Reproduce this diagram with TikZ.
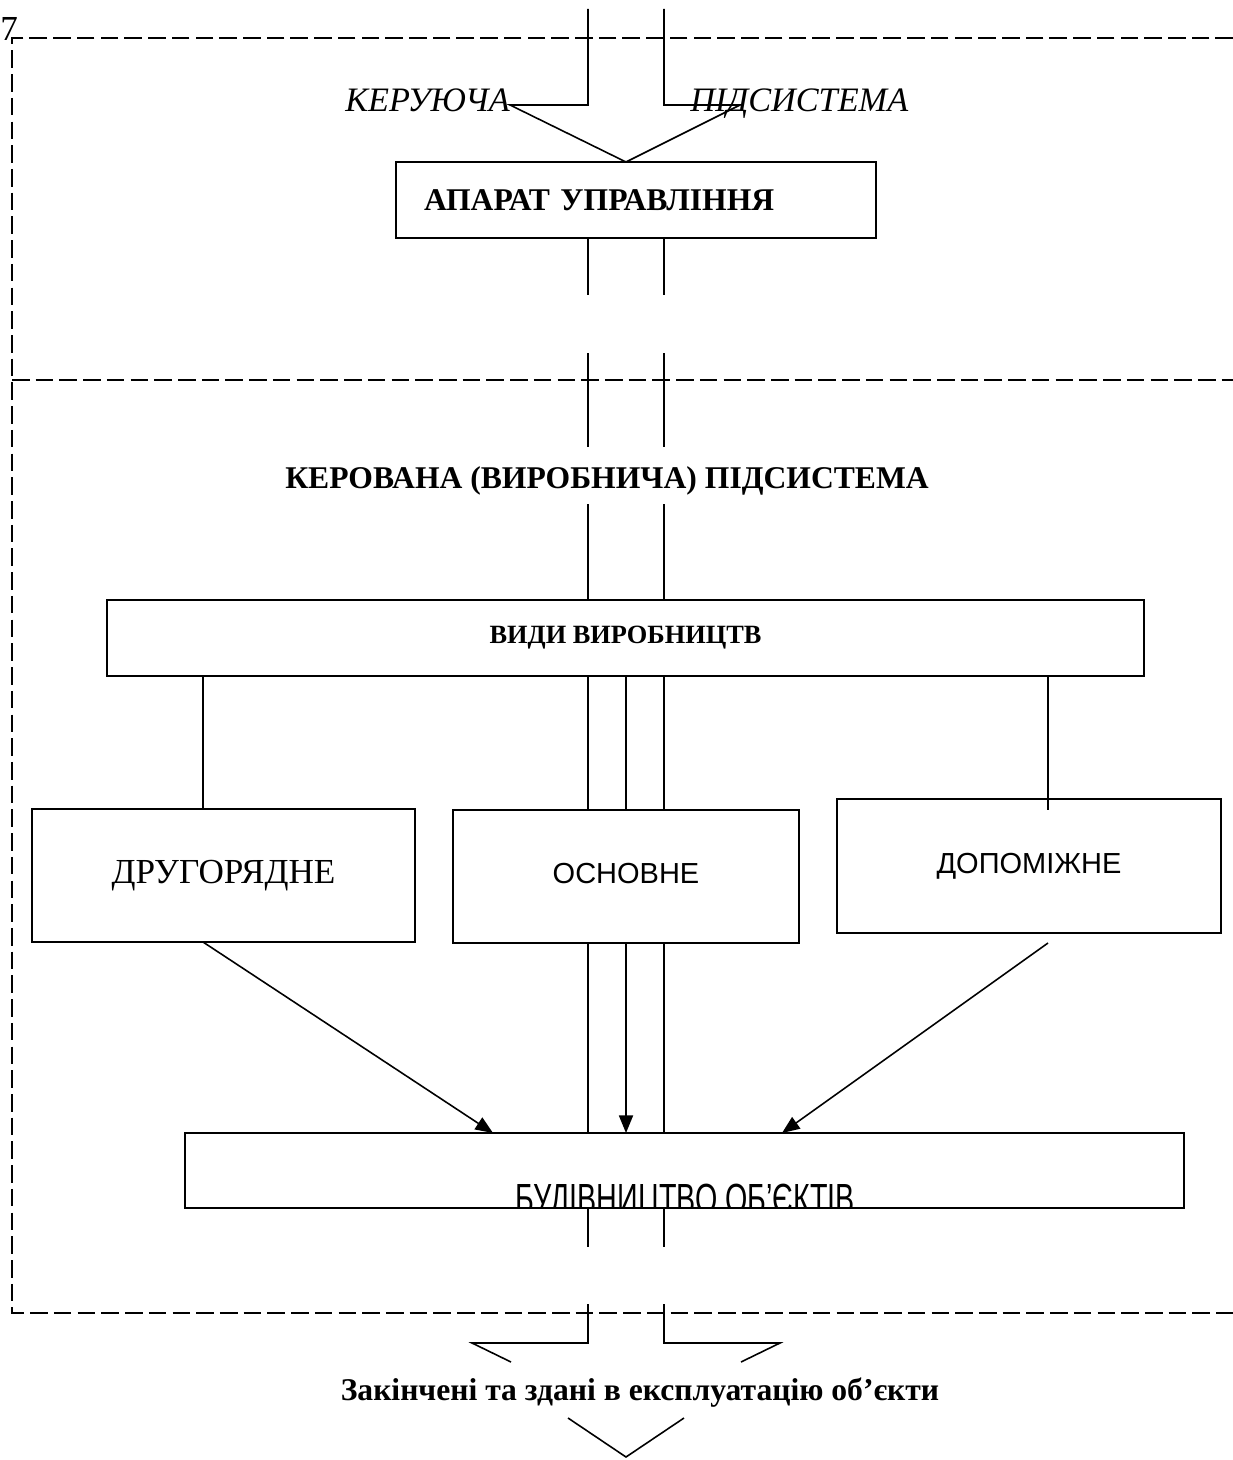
\documentclass[tikz,border=0pt]{standalone}
\usepackage{fontspec}
\setmainfont{Liberation Serif}
\newfontfamily\arialfont{Liberation Sans}
\usepackage{tikz}
\usetikzlibrary{calc,positioning,arrows.meta}

\tikzset{
  frame/.style={line width=1.1pt, dash pattern=on 10pt off 3.5pt},
  flow/.style={line width=0.9pt},
  arr/.style={flow, -{Triangle[length=10pt,width=8pt]}},
  box/.style={draw, line width=1.1pt, inner sep=0pt},
  headtext/.style={font=\bfseries\fontsize{18}{22}\selectfont, inner sep=0pt},
  partlabel/.style={font=\itshape\fontsize{19.5}{23}\selectfont, inner sep=0pt},
}

\begin{document}
\begin{tikzpicture}[x=0.02cm, y=-0.02cm]
        \useasboundingbox (0,0) rectangle (1233,1460);
        % dashed frame of the two subsystems
        \draw[frame] (1233,38) -- (12,38) -- (12,1313) -- (1233,1313);
        \draw[frame] (12,380) -- (1233,380);
        \node[anchor=base west, inner sep=0pt, font=\fontsize{20}{24}\selectfont] (num) at (0,41) {7};

        % managing part
        \node[box, minimum width=9.6cm, minimum height=1.52cm, text width=8.48cm,
              inner xsep=0.56cm, align=left, font=\bfseries\fontsize{18}{22}\selectfont]
              (apparat) at (636,200) {АПАРАТ УПРАВЛІННЯ};
        \node[partlabel, anchor=base east] (keruyucha) at (510,112) {КЕРУЮЧА};
        \node[partlabel, anchor=base west] (pidsystema) at (690,112) {ПІДСИСТЕМА};
        \coordinate (apex) at (626,162);
        \draw[flow] (588,9) -- (588,105) -- (keruyucha.east |- 0,105) -- (apex)
                    -- (740,105) -- (664,105) -- (664,9);

        % managed part
        \node[headtext] (kerovana) at (607,481) {КЕРОВАНА (ВИРОБНИЧА) ПІДСИСТЕМА};
        \node[box, minimum width=20.74cm, minimum height=1.52cm,
              font=\bfseries\fontsize{15}{18}\selectfont] (vydy) at (625.5,638) {ВИДИ ВИРОБНИЦТВ};
        \node[box, minimum width=7.66cm, minimum height=2.66cm,
              font=\fontsize{20}{24}\selectfont] (druh) at (223.5,875.5) {ДРУГОРЯДНЕ};
        \node[box, minimum width=6.92cm, minimum height=2.66cm,
              font=\arialfont\fontsize{16.5}{20}\selectfont] (osn) at (626,876.5) {\raisebox{4pt}{ОСНОВНЕ}};
        \node[box, minimum width=7.68cm, minimum height=2.68cm,
              font=\arialfont\fontsize{16.5}{20}\selectfont] (dop) at (1029,866) {\raisebox{3pt}{ДОПОМІЖНЕ}};
        \node[box, minimum width=20cm, minimum height=1.5cm] (bud) at (684.5,1170.5) {};
        \begin{scope}
            \clip (bud.south west) rectangle (bud.north east);
            \node[anchor=base, inner sep=0pt, xscale=0.68,
                  font=\arialfont\fontsize{24}{28}\selectfont] (budtext) at (685,1213) {БУДІВНИЦТВО ОБ’ЄКТІВ};
        \end{scope}

        % the two flow lines running down the middle
        \foreach \x in {588,664} {
            \draw[flow] (\x,238) -- (\x,295);
            \draw[flow] (\x,353) -- (\x,447);
            \draw[flow] (\x,504) -- (\x,600);
            \draw[flow] (\x,676) -- (\x,810);
            \draw[flow] (\x,943) -- (\x,1133);
            \draw[flow] (\x,1208) -- (\x,1247);
        }
        \draw[flow] (626,676) -- (626,810);

        % branches of the production
        \draw[flow] (203,676) -- (203,809);
        \draw[flow] (1048,676) -- (1048,810);
        \draw[arr] (203,942) -- (493,1133);
        \draw[arr] (osn.south) -- (626,1133);
        \draw[arr] (1048,943) -- (782,1133);

        % output of the system
        \node[headtext] (zakincheni) at (640,1393) {Закінчені та здані в експлуатацію об’єкти};
        \draw[flow] (588,1304) -- (588,1343) -- (472,1343) -- (511,1362);
        \draw[flow] (664,1304) -- (664,1343) -- (780,1343) -- (741,1362);
        \draw[flow] (568,1418) -- (626,1457) -- (684,1418);
\end{tikzpicture}
\end{document}
